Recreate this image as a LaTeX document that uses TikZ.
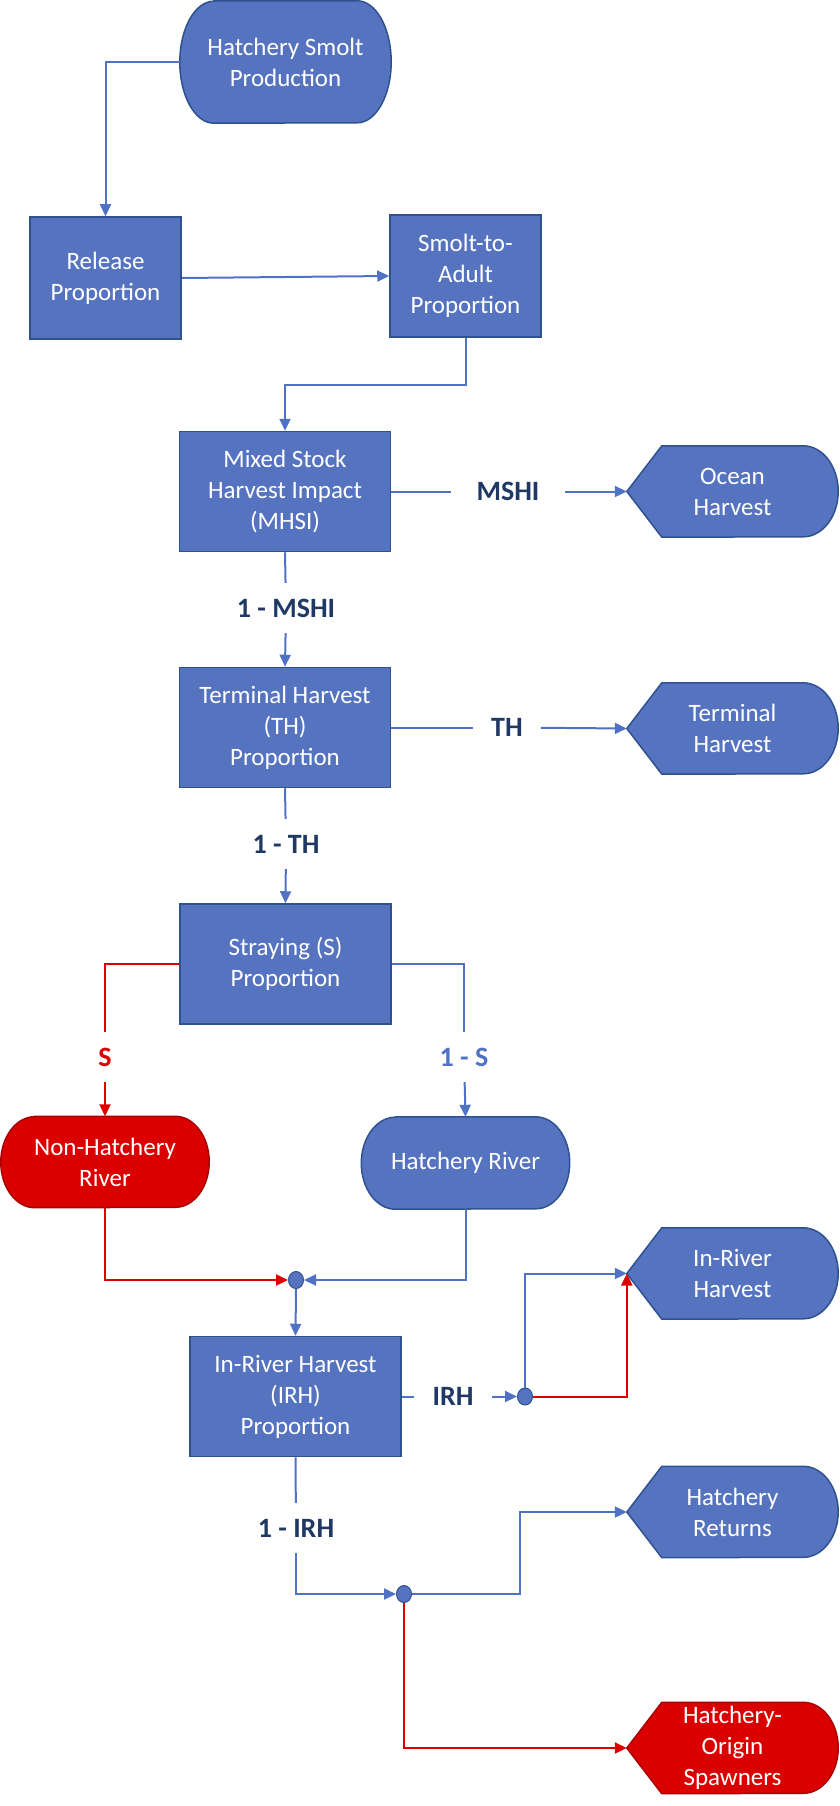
\documentclass[tikz,border=0pt]{standalone}
\usepackage{fontspec}
\setmainfont{Carlito}
\usetikzlibrary{shapes,arrows.meta,backgrounds}

\definecolor{boxblue}{RGB}{86,115,192}
\definecolor{edgeblue}{RGB}{47,82,143}
\definecolor{lineblue}{RGB}{79,114,196}
\definecolor{boxred}{RGB}{218,0,0}
\definecolor{edgered}{RGB}{170,0,0}
\definecolor{linered}{RGB}{222,0,0}
\definecolor{labelnavy}{RGB}{31,56,100}

\tikzset{
  boxtext/.style={text=white, align=center, inner sep=0pt, font=\fontsize{25}{31}\selectfont},
  procbox/.style={boxtext, draw=edgeblue, fill=boxblue, line width=1.5pt,
    minimum width=211pt, minimum height=120pt},
  smallbox/.style={procbox, minimum width=151pt, minimum height=122pt},
  outline/.style 2 args={boxtext, minimum width=#1, minimum height=#2},
  flowlabel/.style={font=\fontsize{28}{34}\selectfont\bfseries, text=labelnavy,
    text height=18pt, text depth=0pt, inner xsep=18pt, inner ysep=16pt},
  junction/.style={ellipse, draw=edgeblue, fill=boxblue, line width=1pt,
    minimum width=15pt, minimum height=17pt, inner sep=0pt},
  flow/.style={draw=lineblue, line width=2pt},
  redflow/.style={draw=linered, line width=2pt}
}

\begin{document}
\begin{tikzpicture}[x=1pt, y=-1pt, >={Triangle[length=12pt,width=11pt]}]

\useasboundingbox (0,0) rectangle (839,1806);

% terminators
\node[outline={211pt}{122pt}] (hsp) at (285.5,62) {Hatchery Smolt\\Production};
\node[outline={208pt}{91pt}] (nhr) at (105,1162) {Non-Hatchery\\River};
\node[outline={208pt}{92pt}] (hr) at (465.5,1163) {Hatchery River};

% process boxes
\node[smallbox] (rel) at (105.5,278) {Release\\Proportion};
\node[smallbox] (sta) at (465.5,276) {Smolt-to-\\Adult\\Proportion};
\node[procbox] (mshi) at (285,491.5) {Mixed Stock\\Harvest Impact\\(MHSI)};
\node[procbox] (th) at (285,727.5) {Terminal Harvest\\(TH)\\Proportion};
\node[procbox] (stray) at (285.5,964) {Straying (S)\\Proportion};
\node[procbox] (irh) at (295.5,1396.5) {In-River Harvest\\(IRH)\\Proportion};

% displays
\node[outline={211pt}{91pt}] (ocean) at (732.5,491.5) {Ocean\\Harvest};
\node[outline={211pt}{91pt}] (termh) at (732.5,728.5) {Terminal\\Harvest};
\node[outline={211pt}{91pt}] (inriv) at (732.5,1273.5) {In-River\\Harvest};
\node[outline={211pt}{91pt}] (hret) at (732.5,1512) {Hatchery\\Returns};
\node[outline={211pt}{91pt}] (hos) at (732.5,1748) {Hatchery-\\Origin\\Spawners};

% junctions
\node[junction] (junc1) at (296,1280) {};
\node[junction] (junc2) at (525,1396.5) {};
\node[junction] (junc3) at (404,1594) {};

% labels
\node[flowlabel, inner xsep=25pt] (lmshi) at (508,491.5) {MSHI};
\node[flowlabel] (l1mshi) at (286,608) {1 - MSHI};
\node[flowlabel] (lth) at (507,727.5) {TH};
\node[flowlabel] (l1th) at (286,844) {1 - TH};
\node[flowlabel, text=linered] (ls) at (105,1057) {S};
\node[flowlabel, text=lineblue] (l1s) at (464,1057) {1 - S};
\node[flowlabel] (lirh) at (453,1396.5) {IRH};
\node[flowlabel] (l1irh) at (296,1528) {1 - IRH};

\begin{scope}[on background layer]
\foreach \nd/\fc/\dc/\ry in {hsp/boxblue/edgeblue/61pt, nhr/boxred/edgered/45.5pt, hr/boxblue/edgeblue/46pt}
  \draw[fill=\fc, draw=\dc, line width=1.5pt] ([xshift=34pt]\nd.north west) -- ([xshift=-34pt]\nd.north east)
    arc[start angle=90, end angle=-90, x radius=34pt, y radius=\ry] -- ([xshift=34pt]\nd.south west)
    arc[start angle=270, end angle=90, x radius=34pt, y radius=\ry] -- cycle;
\foreach \nd/\fc/\dc in {ocean/boxblue/edgeblue, termh/boxblue/edgeblue, inriv/boxblue/edgeblue,
    hret/boxblue/edgeblue, hos/boxred/edgered}
  \draw[fill=\fc, draw=\dc, line width=1.5pt] (\nd.west) -- ([xshift=35pt]\nd.north west)
    -- ([xshift=-35pt]\nd.north east)
    arc[start angle=90, end angle=-90, x radius=35pt, y radius=45.5pt]
    -- ([xshift=35pt]\nd.south west) -- cycle;
\end{scope}

% connectors
\draw[flow,->] (hsp.west) -| (rel.north);
\draw[flow,->] (rel.east) -- (sta.west);
\draw[flow,->] (sta.south) -- ++(0,47) -| (mshi.north);

\draw[flow] (mshi.east) -- (lmshi);
\draw[flow,->] (lmshi) -- (ocean.west);
\draw[flow] (mshi.south) -- (l1mshi);
\draw[flow,->] (l1mshi) -- (th.north);

\draw[flow] (th.east) -- (lth);
\draw[flow,->] (lth) -- (termh.west);
\draw[flow] (th.south) -- (l1th);
\draw[flow,->] (l1th) -- (stray.north);

\draw[redflow] (stray.west) -| (ls);
\draw[redflow,->] (ls) -- (nhr.north);
\draw[flow] (stray.east) -| (l1s);
\draw[flow,->] (l1s) -- (hr.north);

\draw[redflow,->] (nhr.south) |- (junc1.west);
\draw[flow,->] (hr.south) |- (junc1.east);
\draw[flow,->] (junc1.south) -- (irh.north);

\draw[flow] (irh.east) -- (lirh);
\draw[flow,->] (lirh) -- (junc2.west);
\draw[flow,->] (junc2.north) |- (inriv.west);
\draw[redflow,->] (junc2.east) -| (inriv.west);

\draw[flow] (irh.south) -- (l1irh);
\draw[flow,->] (l1irh) |- (junc3.west);
\draw[flow,->] (junc3.east) -- ++(108,0) |- (hret.west);
\draw[redflow,->] (junc3.south) |- (hos.west);

\end{tikzpicture}
\end{document}
